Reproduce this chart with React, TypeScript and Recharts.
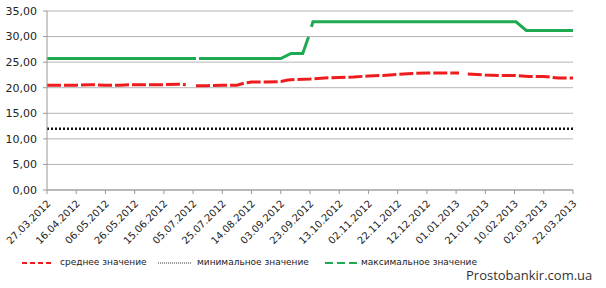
import { LineChart, Line, XAxis, YAxis, CartesianGrid, Legend } from 'recharts'

// x is a day number counted from 27.03.2012; ticks every 20 days
const tickDays = [0, 20, 40, 60, 80, 100, 120, 140, 160, 180, 200, 220, 240, 260, 280, 300, 320, 340, 360]
const tickLabels = [
  '27.03.2012', '16.04.2012', '06.05.2012', '26.05.2012', '15.06.2012', '05.07.2012',
  '25.07.2012', '14.08.2012', '03.09.2012', '23.09.2012', '13.10.2012', '02.11.2012',
  '22.11.2012', '12.12.2012', '01.01.2013', '21.01.2013', '10.02.2013', '02.03.2013', '22.03.2013',
]
const yTicks = [0, 5, 10, 15, 20, 25, 30, 35]

const avgDays = [0, 10, 20, 30, 40, 50, 60, 70, 80, 90, 95, 98, 102, 110, 120, 130, 135, 140, 150, 160, 165, 170, 180, 190, 200, 210, 220, 230, 240, 250, 260, 270, 282, 285, 288, 300, 310, 320, 330, 340, 350, 360]
const avgValues = [20.5, 20.5, 20.5, 20.6, 20.5, 20.5, 20.6, 20.6, 20.6, 20.7, 20.6, null, 20.4, 20.4, 20.5, 20.5, 20.9, 21.1, 21.1, 21.2, 21.5, 21.6, 21.7, 21.9, 22.0, 22.1, 22.3, 22.4, 22.6, 22.8, 22.9, 22.9, 22.9, null, 22.7, 22.5, 22.4, 22.4, 22.2, 22.2, 21.9, 21.9]

const minDays = [0, 360]
const minValues = [12, 12]

const maxDays = [0, 102, 103, 104, 160, 167, 175, 179, 180, 181, 182, 321, 328, 360]
const maxValues = [25.7, 25.7, null, 25.7, 25.7, 26.7, 26.7, 29.9, null, 31.9, 32.9, 32.9, 31.2, 31.2]

const toPoints = (days: number[], values: (number | null)[]) => days.map((d, i) => ({ d, v: values[i] }))

const avgData = toPoints(avgDays, avgValues)
const minData = toPoints(minDays, minValues)
const maxData = toPoints(maxDays, maxValues)

const RED = '#ee1c1c'
const GREEN = '#1eaa50'
const FONT = '"DejaVu Sans", Verdana, sans-serif'

function DateTick({ x, y, payload }: { x?: number; y?: number; payload?: { value: number } }) {
  const i = tickDays.indexOf(payload?.value ?? -1)
  return (
    <text x={x} y={(y ?? 0) + 4} transform={`rotate(-45 ${x} ${(y ?? 0) + 4})`} textAnchor="end"
      fontSize={10} fill="#222" fontFamily={FONT} dy={6}>
      {tickLabels[i]}
    </text>
  )
}

function LegendBox() {
  const item = { position: 'absolute' as const, top: 5, fontSize: 9, color: '#222', fontFamily: FONT, whiteSpace: 'nowrap' as const }
  return (
    <div style={{ position: 'relative', width: 606, height: 36 }}>
      <svg style={{ position: 'absolute', left: 0, top: 0 }} width={606} height={36}>
        <line x1={22} y1={11} x2={53} y2={11} stroke={RED} strokeWidth={2} strokeDasharray="5 3" />
        <line x1={158} y1={11} x2={192} y2={11} stroke="#333" strokeWidth={1} strokeDasharray="1 1" />
        <line x1={325} y1={11} x2={358} y2={11} stroke={GREEN} strokeWidth={2} strokeDasharray="8 4" />
      </svg>
      <span style={{ ...item, left: 60 }}>среднее значение</span>
      <span style={{ ...item, left: 197 }}>минимальное значение</span>
      <span style={{ ...item, left: 361 }}>максимальное значение</span>
      <span style={{ position: 'absolute', left: 466, top: 14, fontSize: 13, color: '#333', fontFamily: '"Open Sans", sans-serif' }}>
        Prostobankir.com.ua
      </span>
    </div>
  )
}

export default function App() {
  return (
    <div style={{ position: 'absolute', left: 0, top: 0, background: '#fff' }}>
      <LineChart width={606} height={288} margin={{ top: 11, right: 33, bottom: 0, left: 0 }}>
        <CartesianGrid vertical={false} stroke="#b4b4b4" />
        <XAxis dataKey="d" type="number" domain={[0, 360]} ticks={tickDays} interval={0}
          tick={<DateTick />} height={62} stroke="#999" tickSize={4} allowDuplicatedCategory={false} />
        <YAxis type="number" domain={[0, 35]} ticks={yTicks} width={47} stroke="#999" tickSize={4} tickMargin={6}
          tick={{ fontSize: 11, fill: '#222', fontFamily: FONT }}
          tickFormatter={(v: number) => v.toFixed(2).replace('.', ',')} />
        <Legend verticalAlign="bottom" content={<LegendBox />} wrapperStyle={{ left: 0, width: 606, height: 36 }} />
        <Line data={avgData} dataKey="v" type="linear" stroke={RED} strokeWidth={3} strokeDasharray="14 3"
          dot={false} isAnimationActive={false} />
        <Line data={minData} dataKey="v" type="linear" stroke="#111" strokeWidth={2.5} strokeDasharray="2 2"
          dot={false} isAnimationActive={false} />
        <Line data={maxData} dataKey="v" type="linear" stroke={GREEN} strokeWidth={3}
          dot={false} isAnimationActive={false} />
      </LineChart>
    </div>
  )
}
